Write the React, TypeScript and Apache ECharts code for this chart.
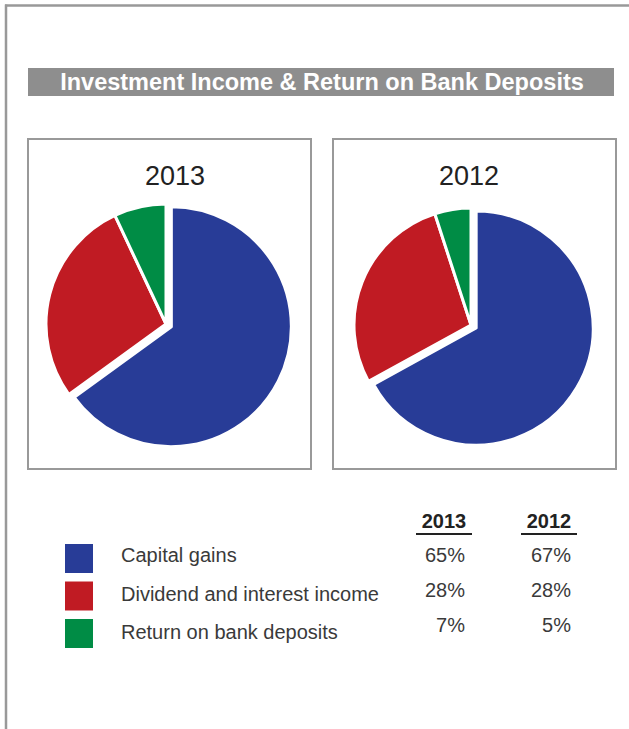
import React, { useEffect, useRef } from "react";
import * as echarts from "echarts";

const title = "Investment Income & Return on Bank Deposits";
const categories = ["Capital gains", "Dividend and interest income", "Return on bank deposits"];
const years = ["2013", "2012"];
const values2013 = [65, 28, 7];
const values2012 = [67, 28, 5];
const colors = ["#283c97", "#c01b23", "#008c45"];

const FONT = "'Liberation Sans', Arial, Helvetica, sans-serif";

export default function App() {
  const ref = useRef<HTMLDivElement>(null);

  useEffect(() => {
    if (!ref.current) return;
    const chart = echarts.init(ref.current, undefined, { renderer: "svg" });
    const valuesByYear = [values2013, values2012];

    const pieSeries = (idx: number, center: number[], radius: number) => ({
      type: "pie",
      center,
      radius,
      startAngle: 90,
      clockwise: true,
      selectedMode: "multiple",
      selectedOffset: 6,
      silent: true,
      emphasis: { disabled: true },
      label: { show: false },
      labelLine: { show: false },
      itemStyle: { borderColor: "#ffffff", borderWidth: 3 },
      data: categories.map((name, i) => ({
        name,
        value: valuesByYear[idx][i],
        selected: i === 0,
        itemStyle: { color: colors[i] },
      })),
    });

    const graphics: any[] = [];
    // outer frame
    graphics.push({ type: "line", shape: { x1: 5, y1: 5.5, x2: 629, y2: 5.5 }, style: { stroke: "#999", lineWidth: 2.5 } });
    graphics.push({ type: "line", shape: { x1: 6, y1: 4.5, x2: 6, y2: 729 }, style: { stroke: "#999", lineWidth: 2.5 } });
    // title bar
    graphics.push({ type: "rect", shape: { x: 28, y: 68, width: 586, height: 28 }, style: { fill: "#8e8e8e" } });
    graphics.push({
      type: "text", x: 322, y: 82,
      style: { text: title, fill: "#ffffff", fontSize: 23.5, fontWeight: "bold", fontFamily: FONT, align: "center", verticalAlign: "middle" },
    });
    // boxes
    const boxX = [28, 333];
    const yearX = [175, 469];
    years.forEach((y, i) => {
      graphics.push({ type: "rect", shape: { x: boxX[i], y: 139, width: 283, height: 330 }, style: { fill: "none", stroke: "#999", lineWidth: 2 } });
      graphics.push({
        type: "text", x: yearX[i], y: 176,
        style: { text: y, fill: "#222", fontSize: 27, fontFamily: FONT, align: "center", verticalAlign: "middle" },
      });
    });
    // legend table
    categories.forEach((c, i) => {
      graphics.push({ type: "rect", shape: { x: 65, y: 544 + i * 37.5, width: 28, height: 29 }, style: { fill: colors[i] } });
      graphics.push({
        type: "text", x: 121, y: 555 + i * 38.5,
        style: { text: c, fill: "#3a3a3a", fontSize: 20, fontFamily: FONT, align: "left", verticalAlign: "middle" },
      });
    });
    const headX = [444, 549];
    const pctX = [465, 571];
    years.forEach((y, j) => {
      graphics.push({
        type: "text", x: headX[j], y: 521,
        style: { text: y, fill: "#222", fontSize: 20, fontWeight: "bold", fontFamily: FONT, align: "center", verticalAlign: "middle" },
      });
      graphics.push({ type: "line", shape: { x1: headX[j] - 28, y1: 534, x2: headX[j] + 28, y2: 534 }, style: { stroke: "#222", lineWidth: 2 } });
      valuesByYear[j].forEach((v, i) => {
        graphics.push({
          type: "text", x: pctX[j], y: 555 + i * 35,
          style: { text: v + "%", fill: "#3a3a3a", fontSize: 20, fontFamily: FONT, align: "right", verticalAlign: "middle" },
        });
      });
    });

    chart.setOption({
      animation: false,
      backgroundColor: "#ffffff",
      series: [pieSeries(0, [166, 324], 120), pieSeries(1, [471, 325], 117)],
      graphic: graphics,
    });
    return () => chart.dispose();
  }, []);

  return <div ref={ref} style={{ position: "fixed", left: 0, top: 0, width: 629, height: 729 }} />;
}
